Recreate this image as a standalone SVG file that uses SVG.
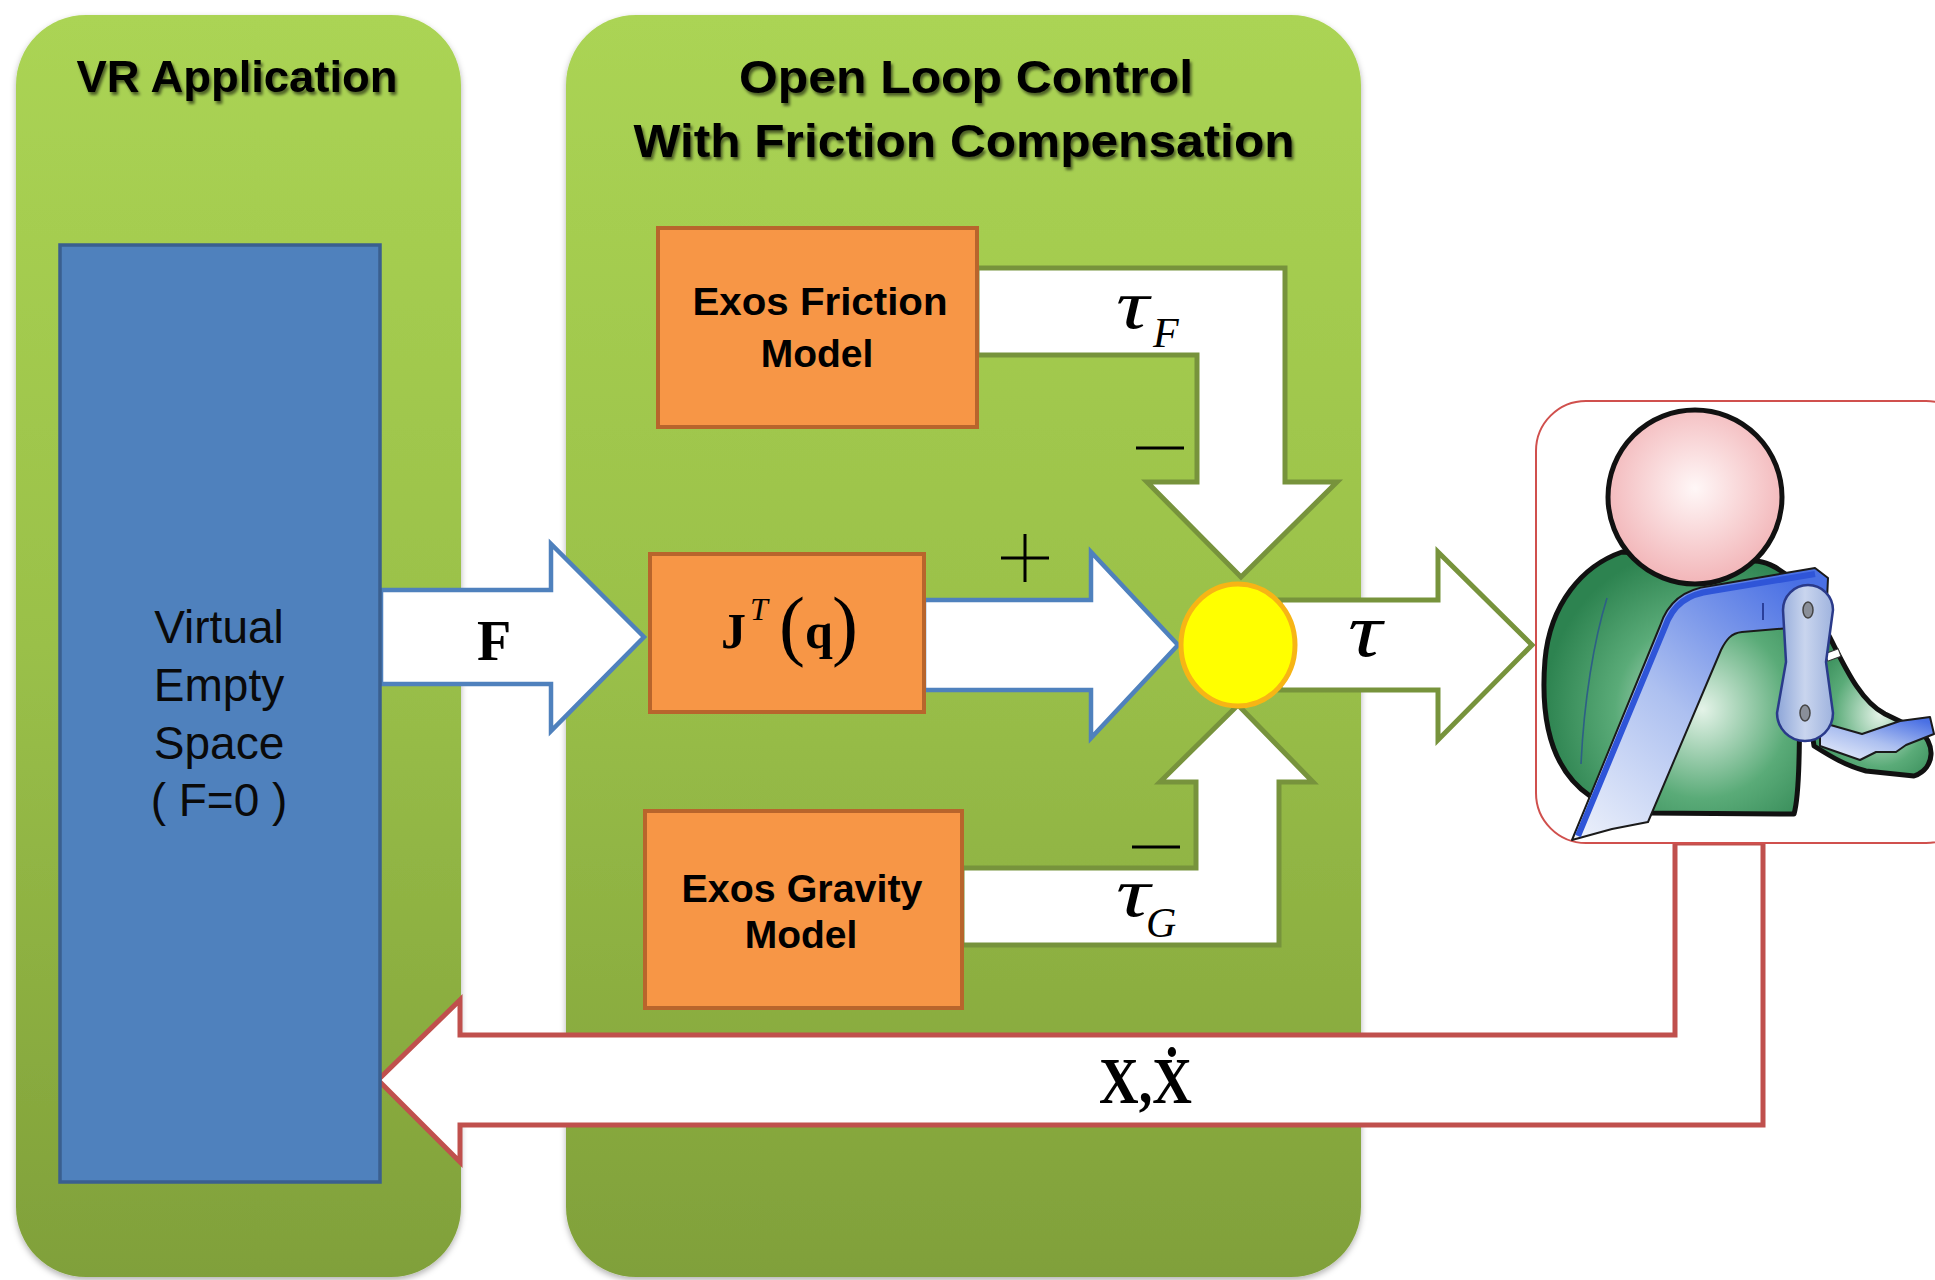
<svg xmlns="http://www.w3.org/2000/svg" width="1935" height="1280" viewBox="0 0 1935 1280">
  <defs>
    <linearGradient id="panelFill" x1="0" y1="0" x2="0" y2="1">
      <stop offset="0" stop-color="#abd454"/>
      <stop offset="0.5" stop-color="#9ac049"/>
      <stop offset="1" stop-color="#80a03a"/>
    </linearGradient>
    <filter id="panelShadow" x="-5%" y="-5%" width="110%" height="110%">
      <feDropShadow dx="0" dy="3" stdDeviation="3" flood-color="#000" flood-opacity="0.3"/>
    </filter>
    <filter id="titleShadow" x="-10%" y="-40%" width="120%" height="180%">
      <feDropShadow dx="2" dy="3" stdDeviation="1.6" flood-color="#000" flood-opacity="0.55"/>
    </filter>
    <radialGradient id="headFill" cx="0.5" cy="0.45" r="0.55">
      <stop offset="0" stop-color="#fff7f7"/>
      <stop offset="1" stop-color="#f2b5b8"/>
    </radialGradient>
    <radialGradient id="bodyFill" cx="0.62" cy="0.6" r="0.62">
      <stop offset="0" stop-color="#e4f3e8"/>
      <stop offset="0.55" stop-color="#5aab78"/>
      <stop offset="1" stop-color="#2d8350"/>
    </radialGradient>
    <linearGradient id="exoFill" x1="0" y1="1" x2="0.8" y2="0">
      <stop offset="0" stop-color="#eef2fb"/>
      <stop offset="0.5" stop-color="#adc0f0"/>
      <stop offset="1" stop-color="#4a70e4"/>
    </linearGradient>
    <linearGradient id="linkFill" x1="0" y1="0" x2="1" y2="0">
      <stop offset="0" stop-color="#8ea6d8"/>
      <stop offset="0.5" stop-color="#c9d5ee"/>
      <stop offset="1" stop-color="#9fb3de"/>
    </linearGradient>
  </defs>
  <style>
    .panel{fill:url(#panelFill);filter:url(#panelShadow)}
    .title{font-family:"Liberation Sans",Arial,sans-serif;font-weight:bold;fill:#000;text-anchor:middle;filter:url(#titleShadow)}
    .box{fill:#f79646;stroke:#b8652c;stroke-width:4}
    .boxlabel{font-family:"Liberation Sans",Arial,sans-serif;font-weight:bold;font-size:39px;text-anchor:middle;fill:#000}
    .spacelabel{font-family:"Liberation Sans",Arial,sans-serif;font-size:46px;text-anchor:middle;fill:#0a0a0a}
    .math{font-family:"Liberation Serif","Times New Roman","DejaVu Serif",serif;fill:#000}
    .arrow-blue{fill:#fff;stroke:#4f81bd;stroke-width:4.5}
    .arrow-green{fill:#fff;stroke:#77933c;stroke-width:5}
    .arrow-red{fill:#fff;stroke:#c0504d;stroke-width:5}
    .sign{stroke:#000;stroke-width:3;fill:none}
    .outline{stroke:#111;stroke-width:5;stroke-linejoin:round}
  </style>

  <rect width="1935" height="1280" fill="#fff"/>

  <!-- containers -->
  <g id="panel-vr">
    <rect class="panel" x="16" y="15" width="445" height="1262" rx="70"/>
    <text class="title" x="237" y="92" font-size="45" textLength="321" lengthAdjust="spacingAndGlyphs">VR Application</text>
  </g>
  <g id="panel-control">
    <rect class="panel" x="566" y="15" width="795" height="1262" rx="70"/>
    <text class="title" x="966" y="93" font-size="47" textLength="454" lengthAdjust="spacingAndGlyphs">Open Loop Control</text>
    <text class="title" x="964" y="157" font-size="47" textLength="661" lengthAdjust="spacingAndGlyphs">With Friction Compensation</text>
  </g>

  <!-- block arrows -->
  <g id="connectors">
    <!-- F : virtual space -> J^T(q) -->
    <path class="arrow-blue" d="M381,590 L551,590 L551,544 L644,637 L551,731 L551,684 L381,684 Z"/>
    <text class="math" x="494" y="660" font-size="56" font-weight="bold" text-anchor="middle">F</text>
    <!-- J^T(q) -> summing junction -->
    <path class="arrow-blue" d="M924,600 L1091,600 L1091,552 L1178,645 L1091,738 L1091,690 L924,690 Z"/>
    <path class="sign" d="M1001,558 H1049 M1025,534 V582"/>
    <!-- tau_F : friction model -> junction -->
    <path class="arrow-green" d="M977,268 L1285,268 L1285,482 L1337,482 L1241,577 L1147,482 L1197,482 L1197,355 L977,355 Z"/>
    <text class="math" x="1116" y="328" font-size="70" font-style="italic" textLength="33" lengthAdjust="spacingAndGlyphs">τ</text>
    <text class="math" x="1153" y="347" font-size="42" font-style="italic">F</text>
    <path class="sign" d="M1136,448 H1184"/>
    <!-- tau_G : gravity model -> junction -->
    <path class="arrow-green" d="M962,945 L1279,945 L1279,782 L1313,782 L1238,705 L1160,782 L1196,782 L1196,868 L962,868 Z"/>
    <path class="sign" d="M1132,847 H1180"/>
    <text class="math" x="1116" y="916" font-size="70" font-style="italic" textLength="34" lengthAdjust="spacingAndGlyphs">τ</text>
    <text class="math" x="1146" y="937" font-size="42" font-style="italic">G</text>
    <!-- tau : junction -> user -->
    <path class="arrow-green" d="M1280,600 L1438,600 L1438,552 L1532,645 L1438,740 L1438,690 L1280,690 Z"/>
    <text class="math" x="1348" y="656" font-size="76" font-style="italic" textLength="34" lengthAdjust="spacingAndGlyphs">τ</text>
    <!-- X, Xdot : user -> VR application -->
    <path class="arrow-red" d="M378,1080 L460,1000 L460,1035 L1675,1035 L1675,843 L1763,843 L1763,1125 L460,1125 L460,1162 Z"/>
    <text class="math" x="1099" y="1103" font-size="66" font-weight="bold" textLength="93" lengthAdjust="spacingAndGlyphs">X,Ẋ</text>
  </g>

  <!-- blocks -->
  <g id="node-virtual-space">
    <rect x="60" y="245" width="320" height="937" fill="#4f81bd" stroke="#3a5f8f" stroke-width="3.5"/>
    <text class="spacelabel" x="219" y="643">Virtual</text>
    <text class="spacelabel" x="219" y="701">Empty</text>
    <text class="spacelabel" x="219" y="759">Space</text>
    <text class="spacelabel" x="219" y="816">( F=0 )</text>
  </g>
  <g id="node-friction">
    <rect class="box" x="658" y="228" width="319" height="199"/>
    <text class="boxlabel" x="820" y="315" textLength="255" lengthAdjust="spacingAndGlyphs">Exos Friction</text>
    <text class="boxlabel" x="817" y="367">Model</text>
  </g>
  <g id="node-jacobian">
    <rect class="box" x="650" y="554" width="274" height="158"/>
    <text class="math" x="721" y="648" font-size="50" font-weight="bold">J</text>
    <text class="math" x="750" y="620" font-size="32" font-style="italic">T</text>
    <text class="math" x="779" y="651" font-size="78">(</text>
    <text class="math" x="805" y="648" font-size="50" font-weight="bold">q</text>
    <text class="math" x="832" y="651" font-size="78">)</text>
  </g>
  <g id="node-gravity">
    <rect class="box" x="645" y="811" width="317" height="197"/>
    <text class="boxlabel" x="802" y="902" textLength="241" lengthAdjust="spacingAndGlyphs">Exos Gravity</text>
    <text class="boxlabel" x="801" y="948">Model</text>
  </g>
  <g id="node-sum">
    <ellipse cx="1238" cy="645" rx="57" ry="61" fill="#ffff00" stroke="#f7b515" stroke-width="5"/>
  </g>

  <!-- user wearing the exoskeleton -->
  <g id="node-user">
    <rect x="1536" y="401" width="440" height="442" rx="50" fill="#fff" stroke="#d0504d" stroke-width="2"/>
    <!-- arm -->
    <path class="outline" fill="url(#bodyFill)" d="M1796,622 L1826,630 C1842,660 1858,700 1885,714 L1918,730 C1936,742 1936,768 1914,776 L1866,771 C1846,766 1830,756 1814,746 Z"/>
    <rect x="1826" y="651" width="14" height="8" fill="#fff" stroke="#333" stroke-width="1" transform="rotate(-20 1833 655)"/>
    <!-- torso -->
    <path class="outline" fill="url(#bodyFill)" d="M1622,552 C1582,566 1550,604 1545,660 C1540,722 1552,770 1590,796 L1648,813 L1794,814 C1801,790 1800,700 1798,650 L1792,580 C1778,566 1762,560 1752,561 Z"/>
    <path d="M1607,598 C1594,640 1584,700 1581,764" fill="none" stroke="#2d5f86" stroke-width="1.6"/>
    <!-- head -->
    <circle cx="1695" cy="497" r="87" fill="url(#headFill)" stroke="#111" stroke-width="5"/>
    <!-- shoulder bar -->
    <path fill="url(#exoFill)" stroke="#1a1a1a" stroke-width="2" stroke-linejoin="round" d="M1572,840 L1660,626 C1668,601 1685,589 1710,586 L1815,568 L1828,578 L1826,622 L1790,628 L1742,632 C1731,633 1726,640 1721,650 L1648,822 L1612,829 Z"/>
    <path d="M1578,836 L1665,627 C1673,604 1688,594 1712,591 L1815,574" fill="none" stroke="#2f55d8" stroke-width="6"/>
    <path d="M1763,603 V620" stroke="#2a3f9a" stroke-width="2"/>
    <!-- forearm cuff -->
    <path fill="url(#exoFill)" stroke="#1a1a1a" stroke-width="2" stroke-linejoin="round" d="M1820,722 L1862,734 L1900,721 L1930,717 L1934,734 L1906,745 L1896,752 L1876,752 L1860,760 L1820,746 Z"/>
    <!-- elbow link -->
    <path fill="url(#linkFill)" stroke="#2a3a8a" stroke-width="2.5" d="M1783,610 A25,25 0 0 1 1833,610 L1826,662 L1833,713 A28,28 0 0 1 1777,713 L1786,662 Z"/>
    <ellipse cx="1808" cy="610" rx="5" ry="8" fill="#8a8f99" stroke="#444" stroke-width="1.5"/>
    <ellipse cx="1805" cy="713" rx="5" ry="8" fill="#8a8f99" stroke="#444" stroke-width="1.5"/>
  </g>
</svg>
